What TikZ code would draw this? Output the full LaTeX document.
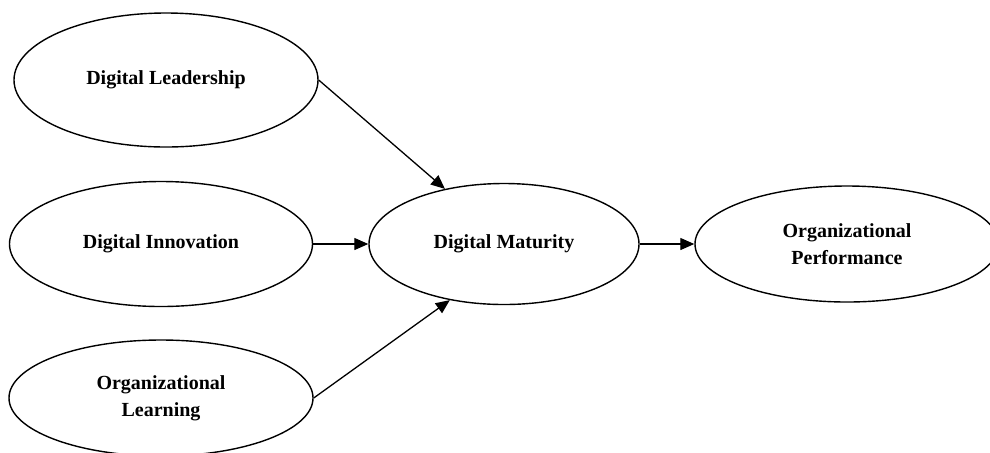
\documentclass[tikz,border=0pt]{standalone}
\usepackage{fontspec}
\setmainfont{Liberation Serif}
\usetikzlibrary{shapes.geometric,arrows.meta}
\begin{document}
\begin{tikzpicture}[x=0.5pt,y=-0.5pt,
  construct/.style={draw, ellipse, line width=0.7pt, inner sep=0pt, align=center, font=\bfseries\fontsize{10}{13.5}\selectfont},
  path/.style={-{Triangle[length=7pt,width=6pt]}, line width=0.65pt}]
\useasboundingbox (0,0) rectangle (990,452);
\node[construct, minimum width=304pt/2, minimum height=134pt/2] (lead) at (166,80) {Digital Leadership};
\node[construct, minimum width=303pt/2, minimum height=125pt/2] (innov) at (161,244) {Digital Innovation};
\node[construct, minimum width=304pt/2, minimum height=116pt/2] (learn) at (161,398) {Organizational\\Learning};
\node[construct, minimum width=270pt/2, minimum height=121pt/2] (mat) at (504,244) {Digital Maturity};
\node[construct, minimum width=304pt/2, minimum height=116pt/2] (perf) at (847,244) {Organizational\\Performance};
\draw[path] (lead.east) -- (mat.137);
\draw[path] (innov) -- (mat);
\draw[path] (learn.east) -- (mat.226);
\draw[path] (mat) -- (perf);
\end{tikzpicture}
\end{document}
